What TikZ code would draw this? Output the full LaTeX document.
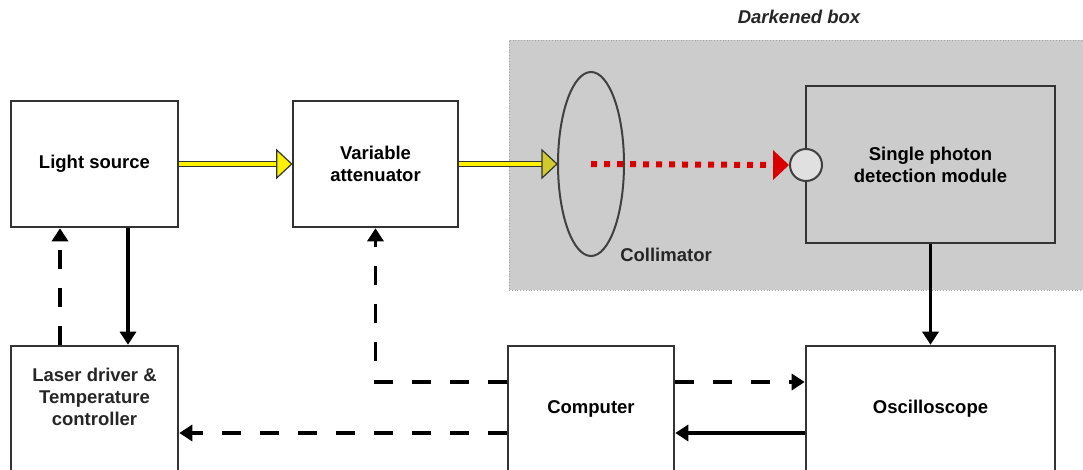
\documentclass[tikz,border=0pt]{standalone}
\usepackage{fontspec}
\setmainfont{Liberation Sans}
\usetikzlibrary{arrows.meta,shapes.geometric,calc}

% light beam: yellow shaft with dark outline and an outlined head
\newcommand\beamarrow[3]{%
  \draw[black!80, line width=6pt] (#1) -- ($(#2)+(-14,0)$);
  \draw[yellow, line width=3.6pt] (#1) -- ($(#2)+(-14,0)$);
  \filldraw[fill=#3, draw=black!80, line width=1.2pt, line join=miter]
    (#2) -- ++(-15,-14) -- ++(0,28) -- cycle;}

\begin{document}
\begin{tikzpicture}[x=1pt,y=-1pt,
  txt/.style={font=\bfseries\fontsize{18.5}{22}\selectfont, align=center},
  box/.style={txt, draw=black!80, line width=2.6pt, fill=white, inner sep=0pt},
  lbl/.style={txt, text=black!85},
  solidarr/.style={line width=3.4pt, draw=black, -{Triangle[length=13pt,width=16pt]}},
  dasharr/.style={solidarr, dash pattern=on 19pt off 19pt},
]
\useasboundingbox (0,0) rectangle (1083,470);
\clip (0,0) rectangle (1083,470);
\fill[white] (0,0) rectangle (1083,470);

% darkened enclosure
\node[draw=black!35, dotted, line width=0.8pt, fill=black!20, inner sep=0pt,
  minimum width=580pt, minimum height=250pt] (dark) at (799,165) {};
\node[lbl, font=\bfseries\itshape\fontsize{18.5}{22}\selectfont] (darklbl) at (799,17) {Darkened box};

% blocks
\node[box, minimum width=167pt, minimum height=126pt] (src) at (94.5,164) {Light source};
\node[box, minimum width=165pt, minimum height=126pt] (att) at (375.5,164) {Variable\\attenuator};
\node[box, fill=black!20, minimum width=249pt, minimum height=157pt] (spdm) at (930.5,164.5) {Single photon\\detection module};
\node[box, minimum width=167pt, minimum height=126pt] (laser) at (94.5,409) {};
\node[lbl] (laserlbl) at (94.5,397) {Laser driver \&\\Temperature\\controller};
\node[box, minimum width=166pt, minimum height=126pt] (comp) at (591,409) {Computer};
\node[box, minimum width=249pt, minimum height=126pt] (osc) at (930.5,409) {Oscilloscope};

% optics
\node[ellipse, draw=black!75, line width=2pt, minimum width=66pt, minimum height=184pt, inner sep=0pt] (coll) at (591,164) {};
\node[lbl] (colllbl) at (666,255) {Collimator};
\node[circle, draw=black!75, line width=2pt, fill=black!12, minimum size=32pt, inner sep=0pt] (det) at (806,165) {};

% light path
\beamarrow{src.east}{att.west}{yellow}
\beamarrow{att.east}{coll.west}{yellow!80!black}
\draw[red!85!black, line width=6pt, dash pattern=on 6pt off 7pt] (coll.center) -- ($(det.west)+(-15,0)$);
\fill[red!85!black] (det.west) -- ++(-16,-15) -- ++(0,30) -- cycle;

% signal and control lines
\draw[solidarr] ([xshift=33.5pt]src.south) -- ([xshift=33.5pt]laser.north);
\draw[dasharr] ([xshift=-34.5pt]laser.north) -- ([xshift=-34.5pt]src.south);
\draw[solidarr] (spdm.south) -- (osc.north);
\draw[dasharr] ([yshift=27pt]comp.west) -| (att.south);
\draw[dasharr] ([yshift=27pt]comp.east) -- ([yshift=27pt]osc.west);
\draw[dasharr] ([yshift=-24pt]comp.west) -- ([yshift=-24pt]laser.east);
\draw[solidarr] ([yshift=-24pt]osc.west) -- ([yshift=-24pt]comp.east);
\end{tikzpicture}
\end{document}
